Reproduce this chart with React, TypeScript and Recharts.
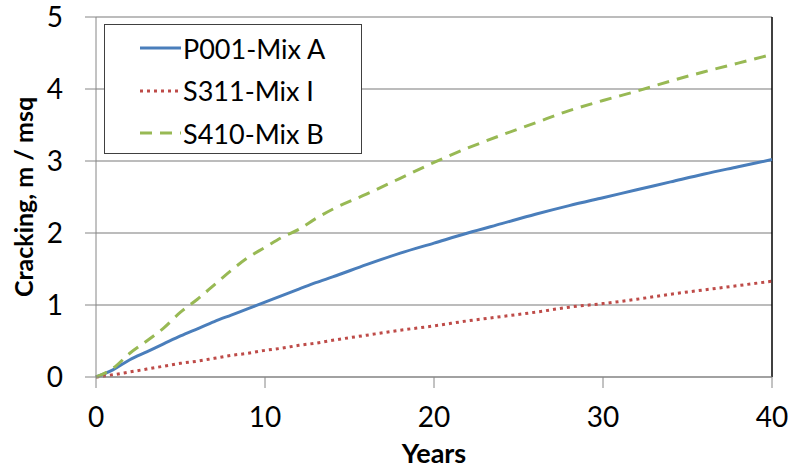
import { LineChart, Line, XAxis, YAxis, CartesianGrid, Legend, ReferenceLine } from "recharts";

const years = [0, 1, 2, 3, 4, 5, 6, 7, 8, 9, 10, 11, 12, 13, 14, 16, 18, 20, 22, 24, 26, 28, 30, 32, 34, 36, 38, 40];
const p001 = [0, 0.1, 0.24, 0.35, 0.46, 0.57, 0.67, 0.77, 0.86, 0.95, 1.04, 1.13, 1.22, 1.31, 1.39, 1.56, 1.72, 1.86, 2.0, 2.13, 2.26, 2.38, 2.49, 2.6, 2.71, 2.82, 2.92, 3.02];
const s311 = [0, 0.03, 0.07, 0.11, 0.15, 0.19, 0.22, 0.26, 0.3, 0.33, 0.37, 0.4, 0.44, 0.47, 0.51, 0.58, 0.65, 0.71, 0.78, 0.84, 0.9, 0.97, 1.02, 1.08, 1.15, 1.21, 1.27, 1.33];
const s410 = [0, 0.12, 0.33, 0.5, 0.68, 0.9, 1.08, 1.28, 1.48, 1.66, 1.8, 1.94, 2.05, 2.2, 2.33, 2.54, 2.76, 2.98, 3.18, 3.36, 3.53, 3.7, 3.84, 3.97, 4.11, 4.24, 4.36, 4.48];
const xTicks = [0, 10, 20, 30, 40];
const yTicks = [0, 1, 2, 3, 4, 5];

const data = years.map((year, i) => ({ year, p001: p001[i], s311: s311[i], s410: s410[i] }));

const FONT = "Lato, 'Open Sans', sans-serif";

// line styles, shared by the series and the legend samples
const styles: Record<string, { color: string; dash?: string; name: string }> = {
  p001: { color: "#4a7ebb", name: "P001-Mix A" },
  s311: { color: "#be4b48", dash: "3 4", name: "S311-Mix I" },
  s410: { color: "#98b954", dash: "12 8", name: "S410-Mix B" },
};

function LegendBox({ payload }: any) {
  return (
    <div
      style={{
        width: 258,
        height: 130,
        border: "1.5px solid #404040",
        background: "#fff",
        boxSizing: "border-box",
        paddingTop: 2,
        fontFamily: FONT,
        fontSize: 27,
        color: "#000",
      }}
    >
      {(payload || []).map((entry: any) => {
        const s = styles[entry.dataKey] || { color: entry.color, name: entry.value };
        return (
          <div key={entry.dataKey} style={{ display: "flex", alignItems: "center", height: 42.5 }}>
            <svg width={78} height={10} style={{ flex: "none" }}>
              <line x1={35} y1={5} x2={76} y2={5} stroke={s.color} strokeWidth={3} strokeDasharray={s.dash} />
            </svg>
            <span>{s.name}</span>
          </div>
        );
      })}
    </div>
  );
}

export default function App() {
  return (
    <div style={{ position: "absolute", left: 0, top: 0, width: 792, height: 469, background: "#fff" }}>
      <LineChart width={792} height={469} data={data} margin={{ top: 17, right: 20, bottom: 0, left: 0 }}>
        <CartesianGrid horizontal vertical={false} stroke="#a6a6a6" strokeWidth={1.5} />
        <XAxis
          type="number"
          dataKey="year"
          domain={[0, 40]}
          ticks={xTicks}
          height={92}
          tickSize={11}
          tickMargin={19}
          stroke="#868686"
          tick={{ fill: "#000", fontSize: 28, fontFamily: FONT }}
          label={{ value: "Years", position: "insideBottom", offset: 6, fill: "#000", fontSize: 27, fontWeight: 700, fontFamily: FONT }}
        />
        <YAxis
          type="number"
          domain={[0, 5]}
          ticks={yTicks}
          width={96}
          tickSize={11}
          tickMargin={22}
          stroke="#868686"
          tick={{ fill: "#000", fontSize: 28, fontFamily: FONT }}
          label={{
            value: "Cracking, m / msq",
            angle: -90,
            position: "insideLeft",
            offset: 24,
            fill: "#000",
            fontSize: 25,
            fontWeight: 700,
            fontFamily: FONT,
            style: { textAnchor: "middle" },
          }}
        />
        <ReferenceLine x={40} stroke="#000" strokeWidth={1.5} />
        <Legend
          layout="vertical"
          verticalAlign="middle"
          align="center"
          wrapperStyle={{ left: 104, top: 24, width: 258, height: 130 }}
          content={<LegendBox />}
        />
        {Object.keys(styles).map((key) => (
          <Line
            key={key}
            dataKey={key}
            name={styles[key].name}
            type="monotone"
            stroke={styles[key].color}
            strokeWidth={3}
            strokeDasharray={styles[key].dash}
            dot={false}
            activeDot={false}
            isAnimationActive={false}
          />
        ))}
      </LineChart>
    </div>
  );
}
